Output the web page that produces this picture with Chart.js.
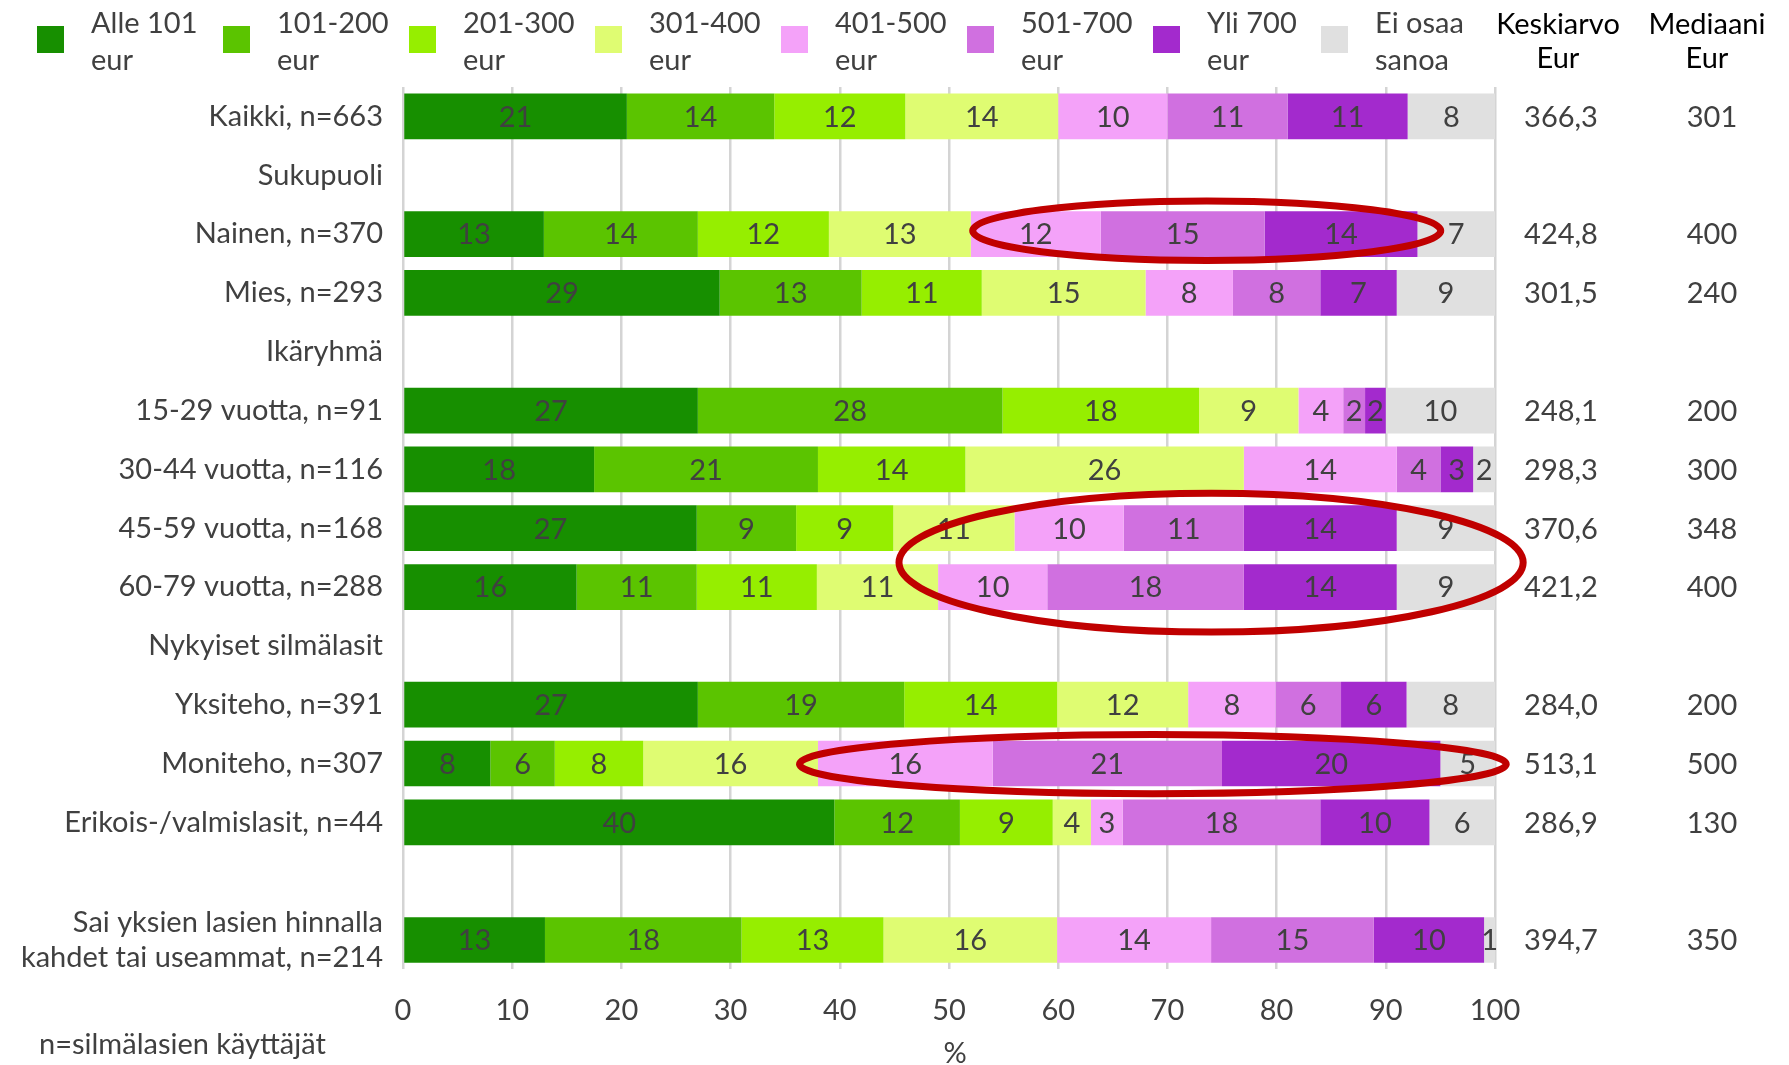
<!DOCTYPE html>
<html><head><meta charset="utf-8">
<script src="https://cdn.jsdelivr.net/npm/chart.js@4.4.1/dist/chart.umd.min.js"></script>
<style>html,body{margin:0;padding:0;background:#fff;}canvas{display:block;}</style>
</head><body>
<canvas id="c" width="1789" height="1065" style="width:1789px;height:1065px"></canvas>
<script>
// ---------- DATA ----------
const categories = [
  'Kaikki, n=663', 'Sukupuoli', 'Nainen, n=370', 'Mies, n=293', 'Ikäryhmä',
  '15-29 vuotta, n=91', '30-44 vuotta, n=116', '45-59 vuotta, n=168', '60-79 vuotta, n=288',
  'Nykyiset silmälasit', 'Yksiteho, n=391', 'Moniteho, n=307', 'Erikois-/valmislasit, n=44', '',
  ['Sai yksien lasien hinnalla', 'kahdet tai useammat, n=214']
];
const seriesNames = ['Alle 101 eur', '101-200 eur', '201-300 eur', '301-400 eur', '401-500 eur', '501-700 eur', 'Yli 700 eur', 'Ei osaa sanoa'];
const alle101   = [20.5, null, 12.9, 29.0, null, 27.0, 17.5, 26.9, 15.9, null, 27.0,  8.0, 39.5, null, 13.0];
const eur101200 = [13.5, null, 14.1, 13.0, null, 27.9, 20.5,  9.1, 11.0, null, 18.9,  5.9, 11.5, null, 18.0];
const eur201300 = [12.0, null, 12.0, 11.0, null, 18.0, 13.5,  8.9, 11.0, null, 14.0,  8.1,  8.5, null, 13.0];
const eur301400 = [14.0, null, 13.0, 15.0, null,  9.1, 25.5, 11.1, 11.1, null, 12.0, 16.0,  3.5, null, 15.9];
const eur401500 = [10.0, null, 11.9,  8.0, null,  4.1, 14.0, 10.0, 10.0, null,  8.0, 16.0,  2.9, null, 14.1];
const eur501700 = [11.0, null, 15.0,  8.0, null,  2.0,  4.0, 11.0, 18.0, null,  6.0, 21.0, 18.1, null, 14.9];
const yli700    = [11.0, null, 14.0,  7.0, null,  1.9,  3.0, 14.0, 14.0, null,  6.0, 20.0, 10.0, null, 10.1];
const eiOsaa    = [ 8.0, null,  7.1,  9.0, null, 10.0,  2.0,  9.0,  9.0, null,  8.1,  5.0,  6.0, null,  1.0];
const keskiarvo = ['366,3', '', '424,8', '301,5', '', '248,1', '298,3', '370,6', '421,2', '', '284,0', '513,1', '286,9', '', '394,7'];
const mediaani  = ['301', '', '400', '240', '', '200', '300', '348', '400', '', '200', '500', '130', '', '350'];
const xTicks = [0, 10, 20, 30, 40, 50, 60, 70, 80, 90, 100];
const colHeaders = [['Keskiarvo', 'Eur'], ['Mediaani', 'Eur']];
const axisTitle = '%';
const footNote = 'n=silmälasien käyttäjät';

// ---------- STYLE ----------
const colors = ['#178f00', '#5bc400', '#96ee00', '#dffc72', '#f4a2f9', '#d070e0', '#a32acd', '#e0e0e0'];
const FAMILY = "Lato, 'Open Sans', sans-serif";
const FS = 29;
const TXT = '#404040';
const ellipses = [ // in data units: x in %, y in category index
  {cx: 73.6, cy: 1.943, rx: 21.43, ry: 0.505},
  {cx: 74.0, cy: 7.585, rx: 28.58, ry: 1.181},
  {cx: 68.67, cy: 11.011, rx: 32.36, ry: 0.503}
];

const series = [alle101, eur101200, eur201300, eur301400, eur401500, eur501700, yli700, eiOsaa];

const overlay = {
  id: 'overlay',
  afterDatasetsDraw(chart) {
    const {ctx} = chart;
    const xs = chart.scales.x, ys = chart.scales.y;
    ctx.save();
    ctx.font = FS + 'px ' + FAMILY;
    ctx.fillStyle = TXT;
    ctx.textAlign = 'center';
    ctx.textBaseline = 'middle';
    chart.data.datasets.forEach((ds, di) => {
      const meta = chart.getDatasetMeta(di);
      meta.data.forEach((el, i) => {
        const v = ds.data[i];
        if (v === null || v === undefined) return;
        ctx.fillText(String(Math.round(v)), (el.x + el.base) / 2, el.y + 1);
      });
    });
    // ellipses
    ctx.strokeStyle = '#c00000';
    ctx.lineWidth = 7;
    ellipses.forEach(e => {
      const px = xs.getPixelForValue(e.cx);
      const rx = xs.getPixelForValue(e.cx + e.rx) - px;
      const py = ys.getPixelForValue(e.cy);
      const ry = ys.getPixelForValue(e.cy + e.ry) - py;
      ctx.beginPath();
      ctx.ellipse(px, py, rx, ry, 0, 0, Math.PI * 2);
      ctx.stroke();
    });
    // right columns
    ctx.fillStyle = TXT;
    categories.forEach((c, i) => {
      const py = ys.getPixelForValue(i) + 1;
      if (keskiarvo[i]) ctx.fillText(keskiarvo[i], 1561, py);
      if (mediaani[i]) ctx.fillText(mediaani[i], 1712, py);
    });
    ctx.restore();
  },
  afterDraw(chart) {
    const {ctx, chartArea} = chart;
    ctx.save();
    ctx.font = FS + 'px ' + FAMILY;
    ctx.textBaseline = 'alphabetic';
    // legend
    const legendX = [37, 223, 409, 595, 781, 967, 1153, 1321];
    chart.data.datasets.forEach((ds, i) => {
      const x = legendX[i];
      ctx.fillStyle = ds.backgroundColor;
      ctx.fillRect(x, 26, 27, 27);
      const k = ds.label.lastIndexOf(' ');
      ctx.fillStyle = TXT;
      ctx.textAlign = 'left';
      ctx.fillText(ds.label.slice(0, k), x + 54, 33);
      ctx.fillText(ds.label.slice(k + 1), x + 54, 70);
    });
    // column headers
    ctx.fillStyle = '#000';
    ctx.textAlign = 'center';
    ctx.fillText(colHeaders[0][0], 1558, 34);
    ctx.fillText(colHeaders[0][1], 1558, 68);
    ctx.fillText(colHeaders[1][0], 1707, 34);
    ctx.fillText(colHeaders[1][1], 1707, 68);
    // axis title & footnote
    ctx.fillStyle = TXT;
    ctx.textBaseline = 'middle';
    ctx.fillText(axisTitle, (chartArea.left + chartArea.right) / 2 + 6, 1054);
    ctx.textAlign = 'left';
    ctx.fillText(footNote, 39, 1045);
    ctx.restore();
  }
};

Chart.defaults.font.family = FAMILY;
Chart.defaults.font.size = FS;
Chart.defaults.color = TXT;

new Chart(document.getElementById('c'), {
  type: 'bar',
  data: {
    labels: categories,
    datasets: series.map((d, i) => ({
      label: seriesNames[i],
      data: d,
      backgroundColor: colors[i],
      borderWidth: 0,
      barPercentage: 0.777,
      categoryPercentage: 1
    }))
  },
  options: {
    indexAxis: 'y',
    responsive: false,
    animation: false,
    devicePixelRatio: 1,
    layout: {padding: {left: 0, right: 294, top: 87, bottom: 0}},
    plugins: {legend: {display: false}, tooltip: {enabled: false}},
    scales: {
      x: {
        stacked: true, min: 0, max: 100,
        afterBuildTicks: s => { s.ticks = xTicks.map(v => ({value: v})); },
        afterFit: s => { s.height = 95.6; },
        grid: {color: '#d4d4d4', lineWidth: 2.5, drawTicks: false},
        border: {display: false},
        ticks: {padding: 24, color: TXT, font: {size: FS, family: FAMILY}}
      },
      y: {
        stacked: true,
        afterFit: s => { s.width = 403; },
        grid: {display: false, drawTicks: false},
        border: {display: false},
        ticks: {autoSkip: false, padding: 20, color: TXT, font: {size: FS, family: FAMILY}}
      }
    }
  },
  plugins: [overlay]
});
</script>
</body></html>
